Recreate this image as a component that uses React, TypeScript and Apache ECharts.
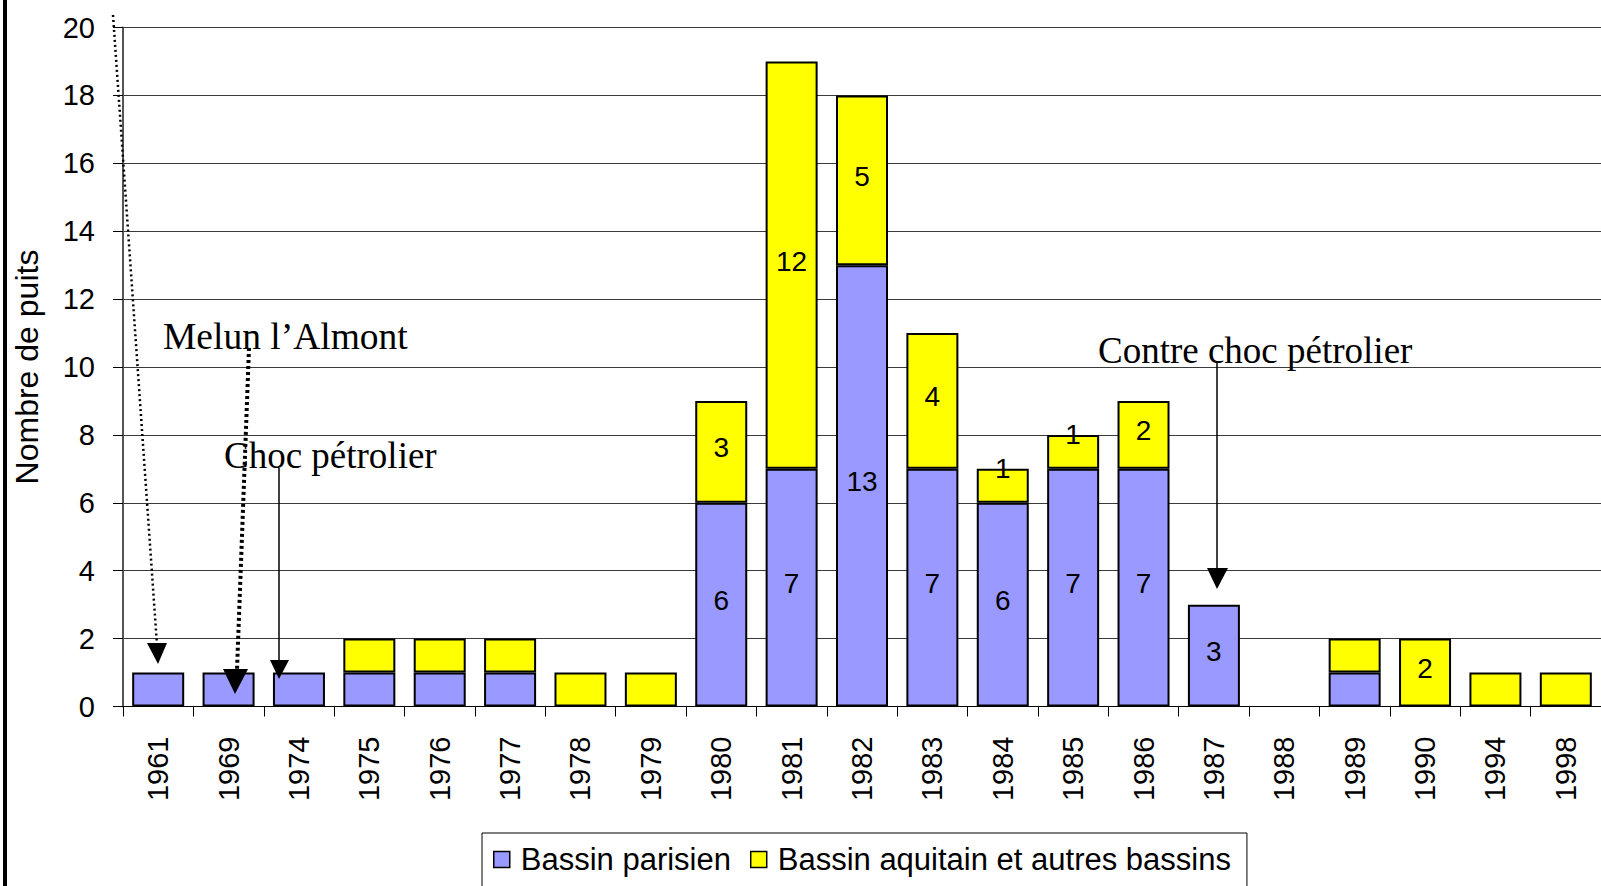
import React, { useEffect, useRef } from "react";
import * as echarts from "echarts";

const categories = ["1961", "1969", "1974", "1975", "1976", "1977", "1978", "1979", "1980", "1981", "1982", "1983", "1984", "1985", "1986", "1987", "1988", "1989", "1990", "1994", "1998"];
const parisien = [1, 1, 1, 1, 1, 1, 0, 0, 6, 7, 13, 7, 6, 7, 7, 3, 0, 1, 0, 0, 0];
const aquitain = [0, 0, 0, 1, 1, 1, 1, 1, 3, 12, 5, 4, 1, 1, 2, 0, 0, 1, 2, 1, 1];
const parisienLabeled = ["1980", "1981", "1982", "1983", "1984", "1985", "1986", "1987"];
const aquitainLabeled = ["1980", "1981", "1982", "1983", "1986", "1990"];
const aquitainTopLabeled = ["1984", "1985"];
const seriesNames = ["Bassin parisien", "Bassin aquitain et autres bassins"];
const yTicks = { min: 0, max: 20, interval: 2 };

const SANS = '"Liberation Sans", Arial, sans-serif';
const SERIF = '"Liberation Serif", "Times New Roman", serif';

function buildData(values: number[], labeled: string[], topLabeled: string[] = []) {
  return values.map((v, i) => {
    const cat = categories[i];
    if (v === 0) return { value: null };
    if (labeled.includes(cat)) return { value: v, label: { show: true } };
    if (topLabeled.includes(cat)) return { value: v, label: { show: true, offset: [0, -17] } };
    return { value: v };
  });
}

export default function App() {
  const ref = useRef<HTMLDivElement>(null);
  useEffect(() => {
    if (!ref.current) return;
    const chart = echarts.init(ref.current, undefined, { renderer: "svg" });
    const labelStyle = {
      show: false,
      position: "inside",
      offset: [0, -4],
      fontSize: 28,
      color: "#000",
      fontFamily: SANS,
    };
    const arrowHead = (pts: number[][]) => ({
      type: "polygon",
      shape: { points: pts },
      style: { fill: "#000" },
      z: 100,
    });
    const option: any = {
      animation: false,
      backgroundColor: "#fff",
      grid: { left: 123, top: 27.5, width: 1484, height: 679 },
      xAxis: {
        type: "category",
        data: categories,
        axisLine: { lineStyle: { color: "#000", width: 1 } },
        axisTick: { show: true, length: 10, lineStyle: { color: "#000" } },
        axisLabel: { rotate: 90, margin: 30, fontSize: 29, color: "#000", fontFamily: SANS },
      },
      yAxis: {
        type: "value",
        min: yTicks.min,
        max: yTicks.max,
        interval: yTicks.interval,
        name: "Nombre de puits",
        nameLocation: "middle",
        nameGap: 80,
        nameTextStyle: { fontSize: 32, color: "#000", fontFamily: SANS },
        axisLine: { show: true, lineStyle: { color: "#555", width: 2 } },
        axisTick: { show: true, length: 10, lineStyle: { color: "#000" } },
        axisLabel: { margin: 28, fontSize: 29, color: "#000", fontFamily: SANS, padding: [0, 0, 3, 0] },
        splitLine: { lineStyle: { color: "#3a3a3a", width: 1 } },
      },
      legend: {
        left: 482,
        top: 833,
        orient: "horizontal",
        data: seriesNames,
        icon: "rect",
        itemWidth: 16,
        itemHeight: 16,
        itemGap: 19,
        padding: [11, 16, 40, 11],
        borderColor: "#000",
        borderWidth: 1,
        itemStyle: { borderColor: "#000", borderWidth: 1.5 },
        textStyle: { fontSize: 31, color: "#000", fontFamily: SANS, padding: [0, 0, 0, 6] },
      },
      series: [
        {
          name: seriesNames[0],
          type: "bar",
          stack: "total",
          barWidth: 52,
          data: buildData(parisien, parisienLabeled),
          itemStyle: { color: "#9999FF", borderColor: "#000", borderWidth: 2 },
          label: labelStyle,
        },
        {
          name: seriesNames[1],
          type: "bar",
          stack: "total",
          barWidth: 52,
          data: buildData(aquitain, aquitainLabeled, aquitainTopLabeled),
          itemStyle: { color: "#FFFF00", borderColor: "#000", borderWidth: 2 },
          label: labelStyle,
        },
      ],
      graphic: [
        { type: "rect", shape: { x: 3, y: 0, width: 4, height: 886 }, style: { fill: "#000" } },
        // Melun l'Almont arrows (dotted)
        { type: "line", shape: { x1: 113, y1: 15, x2: 157, y2: 645 }, style: { stroke: "#000", lineWidth: 2.5, lineDash: [2, 3] }, z: 100 },
        arrowHead([[147, 643], [167, 643], [158, 664]]),
        { type: "line", shape: { x1: 249, y1: 348, x2: 237, y2: 670 }, style: { stroke: "#000", lineWidth: 4, lineDash: [3, 3] }, z: 100 },
        arrowHead([[223, 669], [248, 669], [235, 694]]),
        // Choc pétrolier arrow
        { type: "line", shape: { x1: 279, y1: 468, x2: 279, y2: 661 }, style: { stroke: "#000", lineWidth: 1.5 }, z: 100 },
        arrowHead([[270, 660], [289, 660], [279, 679]]),
        // Contre choc arrow
        { type: "line", shape: { x1: 1217, y1: 363, x2: 1217, y2: 569 }, style: { stroke: "#000", lineWidth: 1.5 }, z: 100 },
        arrowHead([[1207, 568], [1228, 568], [1217, 589]]),
        { type: "text", x: 163, y: 336, z: 101, style: { text: "Melun l\u2019Almont", fontSize: 37.5, fontFamily: SERIF, fill: "#000", verticalAlign: "middle" } },
        { type: "text", x: 224, y: 455, z: 101, style: { text: "Choc pétrolier", fontSize: 37, fontFamily: SERIF, fill: "#000", verticalAlign: "middle" } },
        { type: "text", x: 1098, y: 350, z: 101, style: { text: "Contre choc pétrolier", fontSize: 37, fontFamily: SERIF, fill: "#000", verticalAlign: "middle" } },
      ],
    };
    chart.setOption(option);
    return () => chart.dispose();
  }, []);
  return (
    <div
      ref={ref}
      style={{ position: "fixed", left: 0, top: 0, width: 1601, height: 886, background: "#fff" }}
    />
  );
}
